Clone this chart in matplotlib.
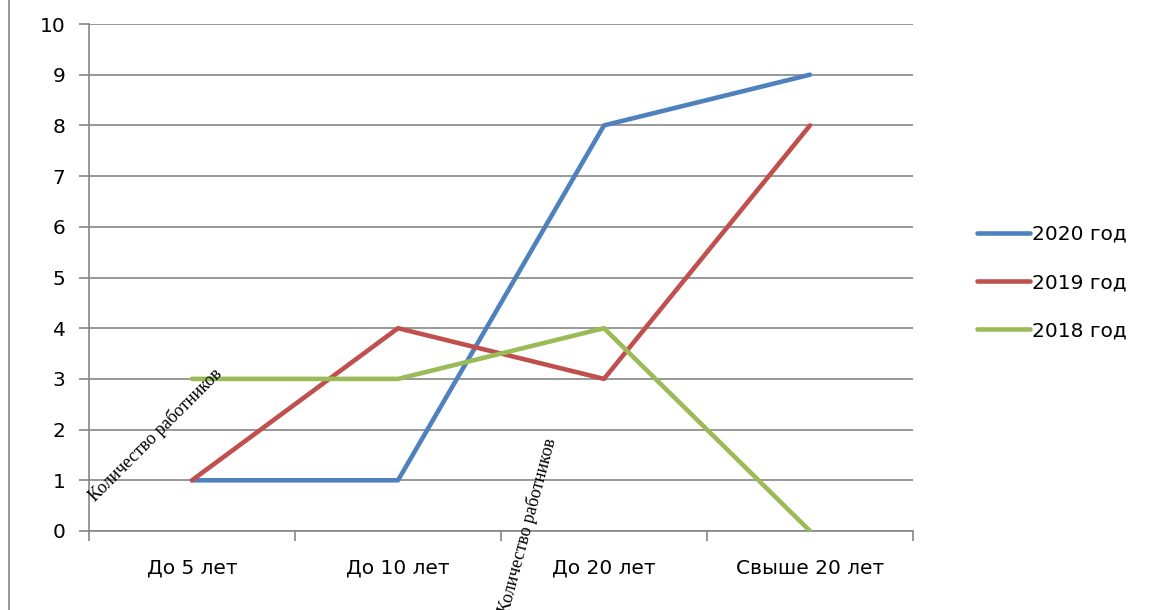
import matplotlib.pyplot as plt
from matplotlib.lines import Line2D

categories = ['До 5 лет', 'До 10 лет', 'До 20 лет', 'Свыше 20 лет']
series_names = ['2020 год', '2019 год', '2018 год']
values_2020 = [1, 1, 8, 9]
values_2019 = [1, 4, 3, 8]
values_2018 = [3, 3, 4, 0]
colors = ['#4F81BD', '#C0504D', '#9BBB59']
rotated_label = 'Количество работников'

fig = plt.figure(figsize=(11.49, 6.10), dpi=100)
ax = fig.add_axes([89 / 1149, 1 - 531 / 610, (913 - 89) / 1149, (531 - 24) / 610])

x = list(range(len(categories)))
for vals, name, c in zip([values_2020, values_2019, values_2018], series_names, colors):
    ax.plot(x, vals, color=c, lw=3.3, label=name, solid_capstyle='round', zorder=3)

ax.set_xlim(-0.5, len(categories) - 0.5)
ax.set_ylim(0, 10)
ax.set_yticks(range(0, 11))
ax.yaxis.grid(True, color='#868686', lw=1.2)
ax.set_axisbelow(True)

ax.set_xticks(x)
ax.set_xticklabels(categories, fontsize=14.5)
ax.set_xticks([i - 0.5 for i in range(len(categories) + 1)], minor=True)
ax.tick_params(axis='x', which='major', length=0, pad=20)
ax.tick_params(axis='x', which='minor', length=7, width=1.2, color='#868686', direction='out')
ax.tick_params(axis='y', length=7, width=1.2, color='#868686', labelsize=14.5, pad=10)

for s in ['top', 'right']:
    ax.spines[s].set_visible(False)
for s in ['left', 'bottom']:
    ax.spines[s].set_color('#868686')
    ax.spines[s].set_linewidth(1.2)

ax.legend(loc='center left', bbox_to_anchor=(1.056, 0.49), frameon=False, fontsize=14.5,
          handlelength=2.6, handletextpad=0.1, labelspacing=1.45)

# rotated captions
ax.text(-0.18, 1.9, rotated_label, rotation=45, fontsize=13, family='Liberation Serif',
        ha='center', va='center', rotation_mode='anchor')
ax.text(1.63, 0.1, rotated_label, rotation=75, fontsize=13, family='Liberation Serif',
        ha='center', va='center', rotation_mode='anchor', clip_on=False)

fig.add_artist(Line2D([9 / 1149, 9 / 1149], [0, 1], color='#868686', lw=1.2))

fig.savefig('out.png', dpi=100)
